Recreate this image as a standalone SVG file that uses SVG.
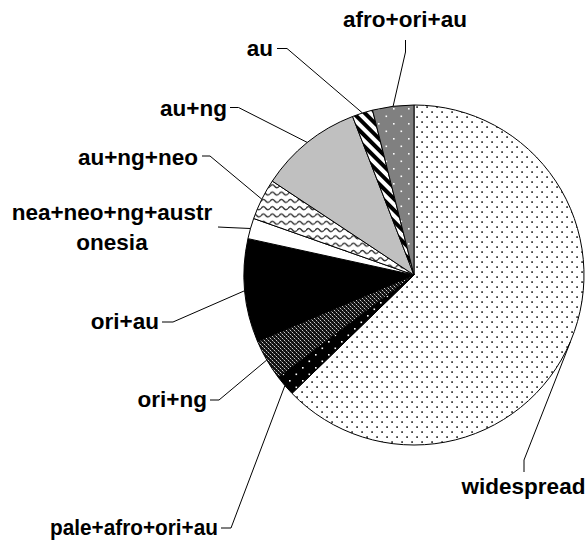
<svg xmlns="http://www.w3.org/2000/svg" width="587" height="541" viewBox="0 0 587 541">
<style>
.sl{stroke:#000;stroke-width:1;stroke-linejoin:round}
.lbl{font-family:"Liberation Sans",Arial,sans-serif;font-weight:bold;font-size:22.5px;fill:#000}
.ld{fill:none;stroke:#000;stroke-width:1}
</style>
<defs>
<pattern id="pWide" width="10" height="10" patternUnits="userSpaceOnUse">
<rect width="10" height="10" fill="#fff"/>
<rect x="1.2" y="1.2" width="1.8" height="1.8" fill="#444"/>
<rect x="6.2" y="6.2" width="1.8" height="1.8" fill="#444"/>
</pattern>
<pattern id="pAfro" width="15" height="15" patternUnits="userSpaceOnUse">
<rect width="15" height="15" fill="#808080"/>
<rect x="3" y="3" width="1.6" height="1.6" fill="#fff"/>
<rect x="10.5" y="10.5" width="1.6" height="1.6" fill="#fff"/>
</pattern>
<pattern id="pPale" width="13" height="13" patternUnits="userSpaceOnUse">
<rect width="13" height="13" fill="#000"/>
<rect x="3" y="3" width="1.6" height="1.6" fill="#fff"/>
<rect x="9.5" y="9.5" width="1.6" height="1.6" fill="#fff"/>
</pattern>
<pattern id="pCheck" width="4" height="4" patternUnits="userSpaceOnUse">
<rect width="4" height="4" fill="#111"/>
<rect x="0" y="0" width="1" height="1" fill="#ccc"/>
<rect x="2" y="2" width="1" height="1" fill="#ccc"/>
<rect x="1" y="1" width="1" height="1" fill="#666"/>
<rect x="3" y="3" width="1" height="1" fill="#666"/>
</pattern>
<pattern id="pWave" width="9" height="7.3" patternUnits="userSpaceOnUse">
<rect width="9" height="7.3" fill="#fff"/>
<path d="M0,4.2 Q2.25,0.8 4.5,3.6 T9,4.2" fill="none" stroke="#333" stroke-width="1.4"/>
</pattern>
<pattern id="pStripe" width="8" height="8" patternUnits="userSpaceOnUse" patternTransform="rotate(-45)">
<rect width="8" height="8" fill="#fff"/>
<rect width="4" height="8" fill="#000"/>
</pattern>
</defs>

<g id="slices">
<g id="widespread"><path class="sl" fill="url(#pWide)" d="M414,275 L414,105 A170,170 0 1 1 291.97,393.37 Z"/></g>
<g id="pale-afro-ori-au"><path class="sl" fill="url(#pPale)" d="M414,275 L291.97,393.37 A170,170 0 0 1 278.34,377.44 Z"/></g>
<g id="ori-ng"><path class="sl" fill="url(#pCheck)" d="M414,275 L278.34,377.44 A170,170 0 0 1 257.45,341.27 Z"/></g>
<g id="ori-au"><path class="sl" fill="#000" d="M414,275 L257.45,341.27 A170,170 0 0 1 247.94,238.64 Z"/></g>
<g id="nea-neo-ng-austronesia"><path class="sl" fill="#fff" d="M414,275 L247.94,238.64 A170,170 0 0 1 253.66,218.49 Z"/></g>
<g id="au-ng-neo"><path class="sl" fill="url(#pWave)" d="M414,275 L253.66,218.49 A170,170 0 0 1 272.29,181.09 Z"/></g>
<g id="au-ng"><path class="sl" fill="#c0c0c0" d="M414,275 L272.29,181.09 A170,170 0 0 1 352.58,116.47 Z"/></g>
<g id="au"><path class="sl" fill="url(#pStripe)" d="M414,275 L352.58,116.47 A170,170 0 0 1 372.54,110.13 Z"/></g>
<g id="afro-ori-au"><path class="sl" fill="url(#pAfro)" d="M414,275 L372.54,110.13 A170,170 0 0 1 414,105 Z"/></g>
</g>

<g id="connectors">
<polyline class="ld" points="405.5,40 405.5,52 393.1,106.3"/>
<polyline class="ld" points="277,48.5 287,48.5 362.5,113"/>
<polyline class="ld" points="230,107.5 238.5,107.5 307.4,142.5"/>
<polyline class="ld" points="202,156 210,156 261.8,199.2"/>
<polyline class="ld" points="218,227 228,227.5 250.5,228.5"/>
<polyline class="ld" points="162,322 173,322 244.7,290.7"/>
<polyline class="ld" points="210,400 219,400 266.8,360"/>
<polyline class="ld" points="221,528 231,528 284.9,385.6"/>
<polyline class="ld" points="524,472 524,460 570.6,341.3"/>
</g>

<g id="labels">
<text class="lbl" x="405" y="27" text-anchor="middle">afro+ori+au</text>
<text class="lbl" x="273" y="56" text-anchor="end">au</text>
<text class="lbl" x="227" y="116" text-anchor="end">au+ng</text>
<text class="lbl" x="198" y="165" text-anchor="end">au+ng+neo</text>
<text class="lbl" x="112" y="220" text-anchor="middle">nea+neo+ng+austr</text>
<text class="lbl" x="112" y="250" text-anchor="middle">onesia</text>
<text class="lbl" x="159" y="329" text-anchor="end">ori+au</text>
<text class="lbl" x="207" y="407" text-anchor="end">ori+ng</text>
<text class="lbl" x="50" y="535" textLength="168" lengthAdjust="spacingAndGlyphs">pale+afro+ori+au</text>
<text class="lbl" x="523.5" y="494" text-anchor="middle">widespread</text>
</g>
</svg>
